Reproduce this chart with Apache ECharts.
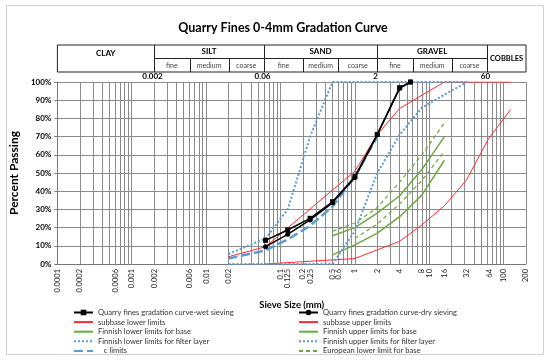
<!DOCTYPE html>
<html><head><meta charset="utf-8">
<script src="https://cdn.jsdelivr.net/npm/echarts@6/dist/echarts.min.js"></script>
<style>html,body{margin:0;padding:0;background:#fff}#c{width:550px;height:361px}</style>
</head><body><div id="c"></div>
<script>
// ---- data (sieve size mm, percent passing) ----
const wetSize = [0.063, 0.125, 0.25, 0.5, 1, 2, 4, 5.6];
const wetPass = [13, 18.7, 25.1, 34.2, 48, 71.2, 96.9, 100];
const drySize = [0.063, 0.125, 0.25, 0.5, 1, 2, 4, 5.6];
const dryPass = [9.5, 16.3, 24.2, 33.6, 47.5, 71, 96.5, 100];
const subLowSize = [0.063, 1, 4, 8, 16, 31.5, 63, 125];
const subLowPass = [0, 3, 12.5, 21.5, 32, 46, 69, 85];
const subUpSize = [0.02, 0.063, 1, 2, 4, 16, 125];
const subUpPass = [4, 9.5, 51, 71, 85.5, 100, 100];
const finLowBaseSize = [0.5, 1, 2, 4, 8, 16];
const finLowBasePass = [5, 10.5, 17, 26, 38, 57];
const finUpBaseSize = [0.5, 1, 2, 4, 8, 16];
const finUpBasePass = [15.5, 20, 28, 37.5, 52, 70];
const finLowFiltSize = [0.02, 0.5, 1, 2, 4, 8, 32];
const finLowFiltPass = [0, 0, 18, 50, 71, 86, 100];
const finUpFiltSize = [0.02, 0.063, 0.125, 0.25, 0.5, 32];
const finUpFiltPass = [5.5, 14, 30, 70, 100, 100];
const cLimSize = [0.02, 0.063, 0.125, 0.25, 0.5, 1, 2];
const cLimPass = [3, 7.5, 13.5, 21, 31.5, 48, 70];
const euLowBaseSize = [1, 2, 4, 8, 16];
const euLowBasePass = [14, 22, 33, 46, 62];
const euUpBaseSize = [0.5, 1, 2, 4, 8, 16];
const euUpBasePass = [18, 22.5, 31, 45, 60, 77.5];

const xLabels = [0.0001, 0.0002, 0.0006, 0.001, 0.002, 0.006, 0.01, 0.02, 0.1, 0.125, 0.2, 0.25, 0.5, 0.6, 1, 2, 4, 8, 10, 16, 32, 64, 100, 200];
const soilBounds = [0.002, 0.06, 2, 60];
const soilBoundLabels = ['0.002', '0.06', '2', '60'];
const soilClasses = ['CLAY', 'SILT', 'SAND', 'GRAVEL', 'COBBLES'];
const subBounds = [0.006, 0.02, 0.2, 0.6, 6, 20];
const subNames = ['fine', 'medium', 'coarse'];
// gridlines at 1..9 x 10^n
const gridVals = [];
for (let e = -4; e <= 2; e++) for (let m = 1; m <= 9; m++) { const v = +(m * Math.pow(10, e)).toPrecision(3); if (v <= 200) gridVals.push(v); }

const FONT = 'Lato';
const pair = (xs, ys) => xs.map((x, i) => [x, ys[i]]);
const RED = '#ff2a2a', BLUE = '#5b9bd5', GREEN = '#6aaa3a';

const chart = echarts.init(document.getElementById('c'), null, { renderer: 'canvas' });
const series = [
  { name: 'Quarry fines gradation curve-wet sieving', type: 'line', data: pair(wetSize, wetPass), symbol: 'rect', symbolSize: 5, lineStyle: { color: '#000', width: 1.5 }, itemStyle: { color: '#000' }, z: 10 },
  { name: 'Quarry fines gradation curve-dry sieving', type: 'line', data: pair(drySize, dryPass), symbol: 'circle', symbolSize: 5, lineStyle: { color: '#000', width: 1.5 }, itemStyle: { color: '#000' }, z: 10 },
  { name: 'subbase lower limits', type: 'line', data: pair(subLowSize, subLowPass), symbol: 'none', lineStyle: { color: RED, width: 1 }, itemStyle: { color: RED } },
  { name: 'subbase upper limits', type: 'line', data: pair(subUpSize, subUpPass), symbol: 'none', lineStyle: { color: RED, width: 1 }, itemStyle: { color: RED } },
  { name: 'Finnish lower limits for base', type: 'line', data: pair(finLowBaseSize, finLowBasePass), symbol: 'none', lineStyle: { color: GREEN, width: 1.5 }, itemStyle: { color: GREEN } },
  { name: 'Finnish upper limits for base', type: 'line', data: pair(finUpBaseSize, finUpBasePass), symbol: 'none', lineStyle: { color: GREEN, width: 1.5 }, itemStyle: { color: GREEN } },
  { name: 'Finnish lower limits for filter layer', type: 'line', data: pair(finLowFiltSize, finLowFiltPass), symbol: 'none', lineStyle: { color: BLUE, width: 2, type: [2, 2] }, itemStyle: { color: BLUE } },
  { name: 'Finnish upper limits for filter layer', type: 'line', data: pair(finUpFiltSize, finUpFiltPass), symbol: 'none', lineStyle: { color: BLUE, width: 2, type: [2, 2] }, itemStyle: { color: BLUE } },
  { name: 'c limits', type: 'line', data: pair(cLimSize, cLimPass), symbol: 'none', lineStyle: { color: BLUE, width: 2.5, type: [9, 4] }, itemStyle: { color: BLUE } },
  { name: 'European lower limit for base', type: 'line', data: pair(euLowBaseSize, euLowBasePass), symbol: 'none', lineStyle: { color: GREEN, width: 1.2, type: [4, 3] }, itemStyle: { color: GREEN } },
  { name: 'European upper limit for base', type: 'line', data: pair(euUpBaseSize, euUpBasePass), symbol: 'none', lineStyle: { color: GREEN, width: 1.2, type: [4, 3] }, itemStyle: { color: GREEN } }
];
const markerNames = ['Quarry fines gradation curve-wet sieving', 'Quarry fines gradation curve-dry sieving'];
const legItem = n => markerNames.indexOf(n) >= 0 ? { name: n } : { name: n, itemStyle: { opacity: 0 } };
const legendCommon = {
  orient: 'vertical', itemWidth: 19, itemHeight: 7, itemGap: 1.6, padding: 0, height: 70,
  textStyle: { fontFamily: FONT, fontSize: 7.6, color: '#333', lineHeight: 7 },
  formatter: n => n === 'c limits' ? '   c limits' : n
};
chart.setOption({
  animation: false,
  textStyle: { fontFamily: FONT },
  grid: { left: 53, right: 24, top: 82, bottom: 97 },
  xAxis: {
    type: 'log', logBase: 10, min: 0.0001, max: 200,
    name: 'Sieve Size (mm)', nameLocation: 'middle', nameGap: 24,
    nameTextStyle: { fontFamily: FONT, fontWeight: 'bold', fontSize: 9.5, color: '#000' },
    axisLine: { show: true, lineStyle: { color: '#777' } },
    axisTick: { show: false, customValues: gridVals },
    splitLine: { show: true, lineStyle: { color: '#8a8a8a', width: 1 } },
    minorTick: { show: false }, minorSplitLine: { show: false },
    axisLabel: { customValues: xLabels, rotate: 90, fontSize: 7.5, color: '#222', fontFamily: FONT, margin: 5, hideOverlap: false, formatter: v => String(v) }
  },
  yAxis: {
    type: 'value', min: 0, max: 100, interval: 10,
    name: 'Percent Passing', nameLocation: 'middle', nameGap: 30, nameRotate: 90,
    nameTextStyle: { fontFamily: FONT, fontWeight: 'bold', fontSize: 12, color: '#000' },
    axisLine: { show: true, lineStyle: { color: '#777' } },
    axisTick: { show: true, length: 3, lineStyle: { color: '#777' } },
    splitLine: { show: true, lineStyle: { color: '#8a8a8a', width: 1 } },
    axisLabel: { formatter: '{value}%', fontSize: 8, fontWeight: 'bold', color: '#000', fontFamily: FONT, margin: 6 }
  },
  legend: [
    Object.assign({}, legendCommon, { left: 73, top: 308.5, data: ['Quarry fines gradation curve-wet sieving', 'subbase lower limits', 'Finnish lower limits for base', 'Finnish lower limits for filter layer', 'c limits'].map(legItem) }),
    Object.assign({}, legendCommon, { left: 298, top: 308.5, data: ['Quarry fines gradation curve-dry sieving', 'subbase upper limits', 'Finnish upper limits for base', 'Finnish upper limits for filter layer', 'European lower limit for base'].map(legItem) })
  ],
  series: series
});

// ---- header table and frame (positions from the axis scale) ----
const px = v => chart.convertToPixel({ xAxisIndex: 0 }, v);
const T = 45, M = 58.5, B = 72;
const L = px(0.0001), R = px(200);
const g = [];
const lineSt = { stroke: '#222', lineWidth: 1 };
g.push({ type: 'rect', shape: { x: 6.5, y: 5.5, width: 537, height: 349 }, style: { fill: 'none', stroke: '#d0d0d0', lineWidth: 1 }, silent: true });
g.push({ type: 'text', x: 283, y: 28, style: { text: 'Quarry Fines 0-4mm Gradation Curve', font: 'bold 12.5px ' + FONT, fill: '#000', align: 'center', verticalAlign: 'middle' } });
g.push({ type: 'rect', shape: { x: L, y: T, width: R - L, height: B - T }, style: { fill: 'none', stroke: '#222', lineWidth: 1 } });
soilBounds.forEach((b, i) => {
  const x = Math.round(px(b)) + 0.5;
  g.push({ type: 'line', shape: { x1: x, y1: T, x2: x, y2: B }, style: lineSt });
  g.push({ type: 'text', x: x - 2, y: 76.5, style: { text: soilBoundLabels[i], font: 'bold 8px ' + FONT, fill: '#000', align: 'center', verticalAlign: 'middle' } });
});
g.push({ type: 'line', shape: { x1: px(0.002), y1: M, x2: px(60), y2: M }, style: lineSt });
subBounds.forEach(b => { const x = Math.round(px(b)) + 0.5; g.push({ type: 'line', shape: { x1: x, y1: M, x2: x, y2: B }, style: lineSt }); });
const edges = [L, px(0.002), px(0.06), px(2), px(60), R];
soilClasses.forEach((n, i) => {
  const cx = (edges[i] + edges[i + 1]) / 2;
  const cy = i === 4 ? (T + B) / 2 : (i === 0 ? 53 : (T + M) / 2);
  g.push({ type: 'text', x: cx, y: cy, style: { text: n, font: 'bold ' + (i === 4 ? 7.5 : 8) + 'px ' + FONT, fill: '#000', align: 'center', verticalAlign: 'middle' } });
});
[[0.002, 0.006, 0.02, 0.06], [0.06, 0.2, 0.6, 2], [2, 6, 20, 60]].forEach(arr => {
  for (let k = 0; k < 3; k++) {
    const cx = (px(arr[k]) + px(arr[k + 1])) / 2;
    g.push({ type: 'text', x: cx, y: 66, style: { text: subNames[k], font: '7px ' + FONT, fill: '#444', align: 'center', verticalAlign: 'middle' } });
  }
});
chart.setOption({ graphic: { elements: g } });
</script></body></html>
